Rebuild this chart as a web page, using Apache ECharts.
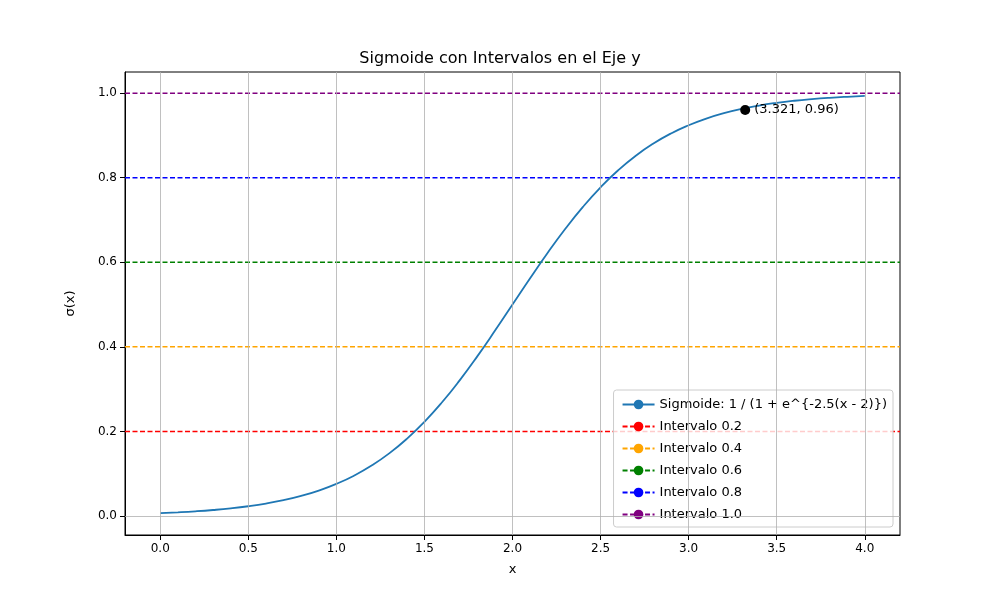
<!DOCTYPE html>
<html>
<head>
<meta charset="utf-8">
<script src="https://cdn.jsdelivr.net/npm/echarts@6/dist/echarts.min.js"></script>
<style>html,body{margin:0;padding:0;background:#fff}#chart{width:1000px;height:600px}</style>
</head>
<body>
<div id="chart"></div>
<script>
// values, step 0.1
var xs = [0, 0.1, 0.2, 0.3, 0.4, 0.5, 0.6, 0.7, 0.8, 0.9, 1.0, 1.1, 1.2, 1.3, 1.4, 1.5, 1.6, 1.7, 1.8, 1.9, 2.0,
  2.1, 2.2, 2.3, 2.4, 2.5, 2.6, 2.7, 2.8, 2.9, 3.0, 3.1, 3.2, 3.3, 3.4, 3.5, 3.6, 3.7, 3.8, 3.9, 4.0]
var ys = [0.0067, 0.0086, 0.0110, 0.0141, 0.0180, 0.0230, 0.0293, 0.0373, 0.0474, 0.0601, 0.0759,
  0.0953, 0.1192, 0.1480, 0.1824, 0.2227, 0.2689, 0.3208, 0.3775, 0.4378, 0.5,
  0.5622, 0.6225, 0.6792, 0.7311, 0.7773, 0.8176, 0.8520, 0.8808, 0.9047, 0.9241,
  0.9399, 0.9526, 0.9627, 0.9707, 0.9770, 0.9820, 0.9859, 0.9890, 0.9914, 0.9933]
var levels = [0.2, 0.4, 0.6, 0.8, 1.0]
var levelColors = ['red', 'orange', 'green', 'blue', 'purple']
var point = [3.321, 0.96]
var xTicks = [0, 0.5, 1.0, 1.5, 2.0, 2.5, 3.0, 3.5, 4.0]
var yTicks = [0, 0.2, 0.4, 0.6, 0.8, 1.0]
var xMin = -0.2, xMax = 4.2

let font = 'DejaVu Sans'
let curve = xs.map((x, i) => [x, ys[i]])

let series = [{
  name: 'grid', type: 'line', data: [], silent: true, z: 0,
  markLine: {
    symbol: 'none', silent: true, label: {show: false},
    lineStyle: {color: '#b0b0b0', width: 0.8, type: 'solid'},
    data: xTicks.map(v => ({xAxis: v})).concat([{yAxis: 0}])
  }
}, {
  name: 'Sigmoide: 1 / (1 + e^{-2.5(x - 2)})', type: 'line', data: curve,
  symbol: 'none', smooth: true, color: '#1f77b4', lineStyle: {width: 1.8}, z: 3
}]
levels.forEach((v, i) => {
  series.push({
    name: 'Intervalo ' + v.toFixed(1), type: 'line', data: [[xMin, v], [xMax, v]],
    symbol: 'none', color: levelColors[i], lineStyle: {type: [5, 2.5], width: 1.5}, z: 2
  })
})
series.push({
  name: 'punto', type: 'scatter', data: [point], symbolSize: 10, itemStyle: {color: '#000', opacity: 1}, z: 5,
  label: {show: true, position: 'right', distance: 4, color: '#000', fontFamily: font, fontSize: 13,
    formatter: '(' + point[0] + ', ' + point[1] + ')'}
})

let myChart = echarts.init(document.getElementById('chart'))
myChart.setOption({
  animation: false,
  title: {text: 'Sigmoide con Intervalos en el Eje y', left: 'center', top: 46,
    textStyle: {fontFamily: font, fontSize: 16, fontWeight: 'normal', color: '#000'}},
  grid: {left: 125, right: 100, top: 72, bottom: 65},
  legend: {
    data: series.slice(1, 7).map(s => s.name),
    orient: 'vertical', right: 107, bottom: 73, itemWidth: 32, itemHeight: 12, itemGap: 9,
    padding: [8, 6, 6, 8], borderColor: '#ccc', borderWidth: 1, borderRadius: 3, backgroundColor: 'rgba(255,255,255,0.8)',
    textStyle: {fontFamily: font, fontSize: 13, color: '#000'}
  },
  xAxis: {
    type: 'value', min: xMin, max: xMax, name: 'x', nameLocation: 'middle', nameGap: 28,
    nameTextStyle: {fontFamily: font, fontSize: 13, color: '#000'},
    axisLine: {onZero: false, lineStyle: {color: '#000'}},
    axisTick: {customValues: xTicks, lineStyle: {color: '#000'}},
    axisLabel: {customValues: xTicks, formatter: v => v.toFixed(1), fontFamily: font, fontSize: 12, color: '#000'},
    splitLine: {show: false}
  },
  yAxis: {
    type: 'value', min: -0.045, max: 1.05, name: 'σ(x)', nameLocation: 'middle', nameGap: 48,
    nameTextStyle: {fontFamily: font, fontSize: 13, color: '#000'},
    axisLine: {show: true, onZero: false, lineStyle: {color: '#000'}},
    axisTick: {show: true, customValues: yTicks, lineStyle: {color: '#000'}},
    axisLabel: {customValues: yTicks, formatter: v => v.toFixed(1), fontFamily: font, fontSize: 12, color: '#000'},
    splitLine: {show: false}
  },
  series: series
})
// box around plot
myChart.setOption({graphic: [{type: 'rect', shape: {x: 125, y: 72, width: 775, height: 463},
  style: {fill: 'none', stroke: '#000', lineWidth: 1}, silent: true}]})
</script>
</body>
</html>
